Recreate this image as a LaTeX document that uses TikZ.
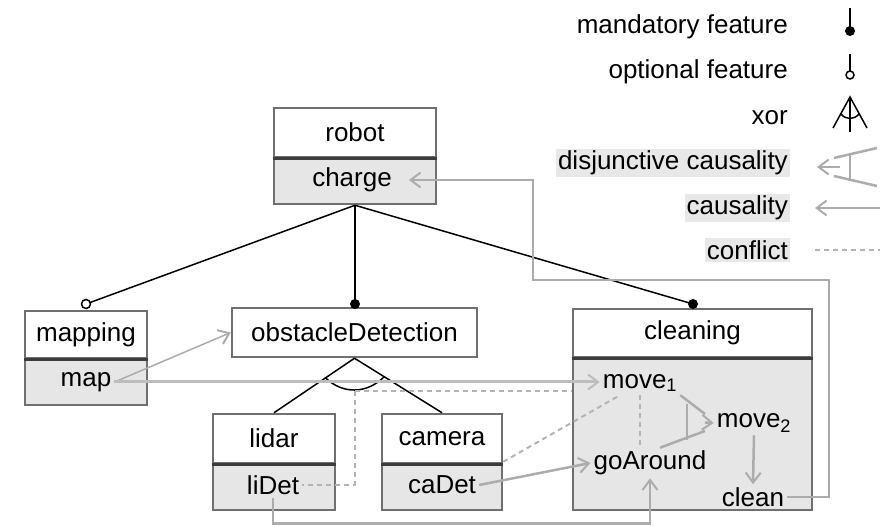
\documentclass[tikz,border=0pt]{standalone}
\usepackage{fontspec}
\setmainfont{Liberation Sans}
\usetikzlibrary{arrows.meta, positioning, calc}
\definecolor{boxGray}{RGB}{112,112,112}
\definecolor{lineDark}{RGB}{60,60,60}
\definecolor{bodyGray}{RGB}{230,230,230}
\definecolor{causalGray}{RGB}{172,172,172}
\definecolor{conflictGray}{RGB}{180,180,180}
\definecolor{legendBg}{RGB}{232,232,232}

\begin{document}
\begin{tikzpicture}[x=1pt, y=-1pt,
            every node/.style={font=\fontsize{26}{30}\selectfont},
            title/.style={rectangle, draw=boxGray, line width=2.5pt, fill=white, minimum height=49pt, inner sep=0pt},
            body/.style={rectangle, draw=boxGray, line width=2.5pt, fill=bodyGray, inner sep=0pt},
            txt/.style={inner sep=3pt},
            divider/.style={line width=3pt, lineDark},
            feat/.style={line width=1.5pt, black},
            causal/.style={-{Straight Barb[length=10pt, width=15pt, line width=2pt]}, line width=2.5pt, causalGray},
            causalLine/.style={line width=2.5pt, causalGray},
            conflict/.style={line width=2pt, conflictGray, dash pattern=on 5pt off 4pt},
            legbg/.style={fill=legendBg, inner sep=2pt}
        ]
            \useasboundingbox (0,0) rectangle (894,526);

            % Robot
            \node[body, minimum width=162pt, minimum height=47pt] (robotBody) at (355,180.5) {};
            \node[title, minimum width=162pt] (robot) at (355,132.5) {robot};
            \draw[divider] (robot.south west) -- (robot.south east);
            \node[txt] (charge) at (352,180) {charge};

            % Mapping
            \node[body, minimum width=122pt, minimum height=47pt] (mappingBody) at (86,381.5) {};
            \node[title, minimum width=122pt, minimum height=47pt] (mapping) at (86,334.5) {mapping};
            \draw[divider] (mapping.south west) -- (mapping.south east);
            \node[txt] (map) at (86,382) {map};

            % Obstacle detection
            \node[title, minimum width=245pt] (obstacle) at (354.5,332.5) {obstacleDetection};

            % Lidar and camera
            \node[body, minimum width=122pt, minimum height=47pt] (lidarBody) at (274,486.5) {};
            \node[title, minimum width=122pt] (lidar) at (274,438.5) {lidar};
            \draw[divider] (lidar.south west) -- (lidar.south east);
            \node[txt] (liDet) at (273,485) {liDet};

            \node[body, minimum width=120pt, minimum height=47pt] (cameraBody) at (442,486.5) {};
            \node[title, minimum width=120pt] (camera) at (442,438.5) {camera};
            \draw[divider] (camera.south west) -- (camera.south east);
            \node[txt] (caDet) at (442,485) {caDet};

            % Cleaning
            \node[body, minimum width=239pt, minimum height=153pt] (cleaningBody) at (692.5,433.5) {};
            \node[title, minimum width=239pt, minimum height=48pt] (cleaning) at (692.5,333) {cleaning};
            \draw[divider] (cleaning.south west) -- (cleaning.south east);
            \node[txt] (move1) at (640,383) {move\textsubscript{1}};
            \node[txt] (move2) at (754,423) {move\textsubscript{2}};
            \node[txt] (goAround) at (650,463) {goAround};
            \node[txt] (clean) at (753,497) {clean};

            % Feature tree
            \coordinate (optMap) at (86,304);
            \coordinate (mandObs) at (355,304);
            \coordinate (mandClean) at (693,304);
            \draw[feat] (robotBody.south) -- (optMap);
            \draw[feat] (robotBody.south) -- (mandObs);
            \draw[feat] (robotBody.south) -- (mandClean);
            \draw[feat, fill=white] (optMap) circle (4.5pt);
            \fill (mandObs) circle (5pt);
            \fill (mandClean) circle (5pt);

            % Xor
            \draw[feat] (obstacle.south) -- (lidar.north);
            \draw[feat] (obstacle.south) -- (camera.north);
            \draw[feat] ($(obstacle.south)!35pt!(lidar.north)$) .. controls ($(obstacle.south)+(-12,36)$) and ($(obstacle.south)+(12,36)$) .. ($(obstacle.south)!35pt!(camera.north)$);
            \coordinate (xorBot) at ($(obstacle.south)+(0,33)$);

            % Conflicts
            \draw[conflict] (xorBot) |- (liDet.east);
            \draw[conflict] (xorBot) -- (xorBot -| cleaningBody.west);
            \draw[conflict] (cameraBody.north east) -- ($(move1.south)+(-20,0)$);
            \draw[conflict] (move1.south) -- (move1.south |- goAround.north);

            % Causality
            \draw[causal, line width=1.5pt] (map.east) -- (obstacle.west);
            \draw[causal, line width=3pt, causalGray!80] (map.east) -- (map.east -| move1.west);
            \draw[causal] (caDet.east) -- (goAround.west);
            \draw[causal] (liDet.south) |- ($(goAround.south)+(0,45)$) -- (goAround.south);
            \draw[causal] (move2.south) -- (clean.north);
            \coordinate (backR) at (829,280);
            \coordinate (backL) at (533,280);
            \draw[causal] (clean.east) -| (backR) -- (backL) |- ([xshift=14pt]charge.east);

            % Disjunctive causality
            \coordinate (dTop) at (705,414);
            \coordinate (dBot) at (705,431);
            \draw[causalLine] (move1.south east) -- (dTop);
            \draw[causalLine] ($(goAround.north)+(10,0)$) -- (dBot);
            \draw[causalLine] (687,404) -- (687,440);
            \draw[causal] ($(dTop)!0.5!(dBot)$) -- (move2.west);

            % Legend
            \node[anchor=east, inner sep=2pt] (legMand) at (790,27) {mandatory feature};
            \node[anchor=east, inner sep=2pt] (legOpt) at (790,72) {optional feature};
            \node[anchor=east, inner sep=2pt] (legXor) at (790,118) {xor};
            \node[anchor=east, legbg] (legDisj) at (790,163) {disjunctive causality};
            \node[anchor=east, legbg] (legCaus) at (790,208) {causality};
            \node[anchor=east, legbg] (legConf) at (790,250) {conflict};

            \draw[feat] (850,8) -- (850,30);
            \fill (850,31) circle (5pt);
            \draw[feat] (850,54) -- (850,71);
            \draw[feat, fill=white] (850,75) circle (4pt);
            \draw[feat] (833,128) -- (850,97) -- (867,128);
            \draw[feat] (850,97) -- (850,132);
            \draw[feat] (841,114) .. controls (846,120) and (854,120) .. (859,114);
            \draw[causal] (840,167) -- (817,167);
            \draw[causalLine] (834,158) -- (877,148);
            \draw[causalLine] (834,176) -- (877,186);
            \draw[causalLine] (850,154) -- (850,181);
            \draw[causal] (880,208) -- (815,208);
            \draw[conflict] (815,250) -- (880,250);
        \end{tikzpicture}
\end{document}
